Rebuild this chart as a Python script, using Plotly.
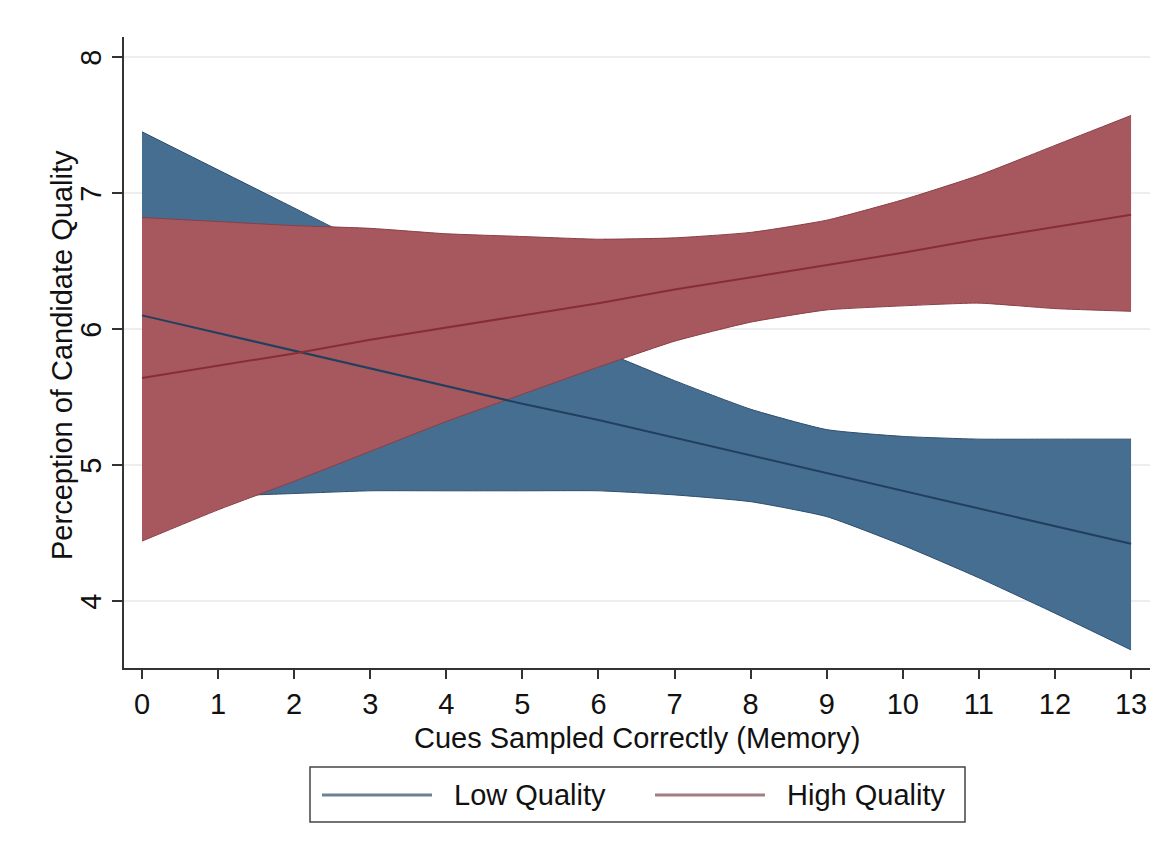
import plotly.graph_objects as go

# ---- data ----
cues = [0, 1, 2, 3, 4, 5, 6, 7, 8, 9, 10, 11, 12, 13]

low_pred  = [6.10, 5.97, 5.84, 5.71, 5.58, 5.45, 5.33, 5.20, 5.07, 4.94, 4.81, 4.68, 4.55, 4.42]
low_upper = [7.45, 7.17, 6.89, 6.61, 6.35, 6.09, 5.85, 5.62, 5.41, 5.26, 5.21, 5.19, 5.19, 5.19]
low_lower = [4.75, 4.77, 4.79, 4.81, 4.81, 4.81, 4.81, 4.78, 4.73, 4.62, 4.41, 4.17, 3.91, 3.64]

high_pred  = [5.64, 5.73, 5.82, 5.92, 6.01, 6.10, 6.19, 6.29, 6.38, 6.47, 6.56, 6.66, 6.75, 6.84]
high_upper = [6.82, 6.79, 6.76, 6.74, 6.70, 6.68, 6.66, 6.67, 6.71, 6.80, 6.95, 7.13, 7.35, 7.57]
high_lower = [4.44, 4.67, 4.88, 5.10, 5.32, 5.52, 5.72, 5.91, 6.05, 6.14, 6.17, 6.19, 6.15, 6.13]

x_ticks = [0, 1, 2, 3, 4, 5, 6, 7, 8, 9, 10, 11, 12, 13]
y_ticks = [4, 5, 6, 7, 8]
series_names = ["Low Quality", "High Quality"]

# ---- styles ----
BLUE_FILL = "#466E91"
BLUE_EDGE = "#2E4E6E"
BLUE_LINE = "#213F5E"
RED_FILL = "#A6585E"
RED_EDGE = "#8A3F46"
RED_LINE = "#8A2C38"
FONT = "Liberation Sans, Arial, Helvetica, sans-serif"
FS = 29

fig = go.Figure()

def band(lower, upper, fill, edge):
    fig.add_trace(go.Scatter(x=cues, y=lower, mode="lines",
                             line=dict(color=edge, width=1, shape="spline", smoothing=0.5),
                             showlegend=False, hoverinfo="skip"))
    fig.add_trace(go.Scatter(x=cues, y=upper, mode="lines", fill="tonexty",
                             fillcolor=fill,
                             line=dict(color=edge, width=1, shape="spline", smoothing=0.5),
                             showlegend=False, hoverinfo="skip"))

band(low_lower, low_upper, BLUE_FILL, BLUE_EDGE)
band(high_lower, high_upper, RED_FILL, RED_EDGE)

fig.add_trace(go.Scatter(x=cues, y=low_pred, mode="lines", name=series_names[0],
                         line=dict(color=BLUE_LINE, width=2), showlegend=False))
fig.add_trace(go.Scatter(x=cues, y=high_pred, mode="lines", name=series_names[1],
                         line=dict(color=RED_LINE, width=2), showlegend=False))

# ---- layout ----
# page body adds an 8px offset; screen positions below are for the photographed page
OFF = 8
W, H = 1173 - 2 * OFF, 854 - 2 * OFF
PL, PR, PT, PB = 124, 1150, 37, 668      # plot area on screen
L = PL - OFF
T = PT - OFF
R = W - (PR - OFF)
B = H - (PB - OFF)
pw, ph = PR - PL, PB - PT

def px_x(p):
    return (p - PL) / pw

def px_y(p):
    return (PB - p) / ph

fig.update_layout(
    width=W, height=H,
    margin=dict(l=L, r=R, t=T, b=B, autoexpand=False),
    paper_bgcolor="white", plot_bgcolor="white",
    font=dict(family=FONT, size=FS, color="#111111"),
    showlegend=False,
    xaxis=dict(range=[-0.2366, 13.249], tickvals=x_ticks, ticktext=[str(v) for v in x_ticks],
               showline=True, linecolor="#333333", linewidth=1.5,
               ticks="outside", ticklen=9, tickwidth=1.5, tickcolor="#333333",
               showgrid=False, zeroline=False,
               tickfont=dict(size=FS)),
    yaxis=dict(range=[3.507, 8.147], tickvals=y_ticks, ticktext=[str(v) for v in y_ticks],
               showline=True, linecolor="#333333", linewidth=1.5,
               ticks="outside", ticklen=10, tickwidth=1.5, tickcolor="#333333",
               tickangle=-90, ticklabelshift=5,
               showgrid=True, gridcolor="#EEEEEE", gridwidth=1.5, zeroline=False,
               tickfont=dict(size=FS)),
)

# axis titles
fig.add_annotation(xref="paper", yref="paper", x=px_x(637), y=px_y(738),
                   xanchor="center", yanchor="middle", showarrow=False,
                   text="Cues Sampled Correctly (Memory)", font=dict(size=FS, family=FONT, color="#111111"))
fig.add_annotation(xref="paper", yref="paper", x=px_x(62), y=px_y(355),
                   xanchor="center", yanchor="middle", showarrow=False, textangle=-90,
                   text="Perception of Candidate Quality", font=dict(size=FS, family=FONT, color="#111111"))

# ---- manual legend (box, sample lines, labels) ----
box_x0, box_x1, box_y0, box_y1 = 310, 965, 767, 822
fig.add_shape(type="rect", xref="paper", yref="paper",
              x0=px_x(box_x0), x1=px_x(box_x1), y0=px_y(box_y1), y1=px_y(box_y0),
              line=dict(color="#444444", width=1.5), fillcolor="white")
ly = px_y(795)
fig.add_shape(type="line", xref="paper", yref="paper",
              x0=px_x(322), x1=px_x(432), y0=ly, y1=ly,
              line=dict(color="#6C8196", width=3))
fig.add_shape(type="line", xref="paper", yref="paper",
              x0=px_x(655), x1=px_x(765), y0=ly, y1=ly,
              line=dict(color="#A27E84", width=3))
fig.add_annotation(xref="paper", yref="paper", x=px_x(452), y=ly, xanchor="left", yanchor="middle",
                   text=series_names[0], showarrow=False, font=dict(size=FS, family=FONT, color="#111111"))
fig.add_annotation(xref="paper", yref="paper", x=px_x(785), y=ly, xanchor="left", yanchor="middle",
                   text=series_names[1], showarrow=False, font=dict(size=FS, family=FONT, color="#111111"))

fig.write_html("out.html")
